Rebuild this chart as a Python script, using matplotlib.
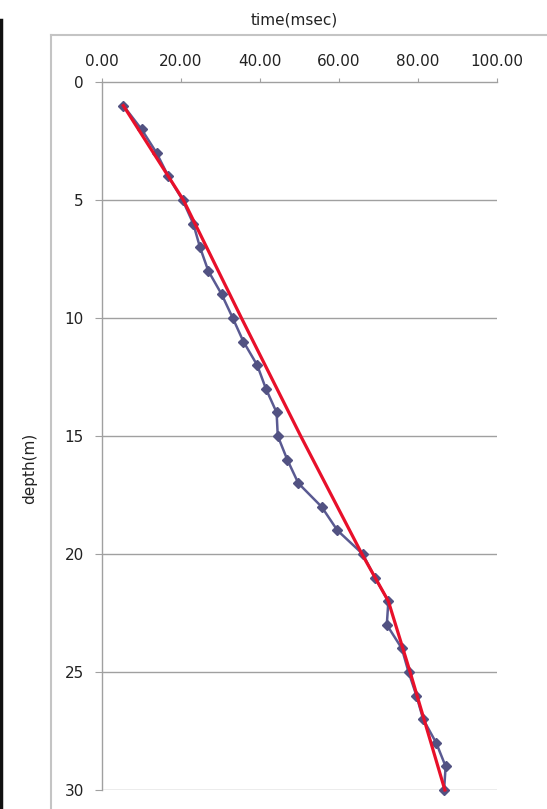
import matplotlib
matplotlib.use('Agg')
import matplotlib.pyplot as plt
from matplotlib.lines import Line2D

# ─── Data ─────────────────────────────────────────────────────────────────────

depth_m = list(range(1, 31))
time_ms = [5.4, 10.0, 13.8, 16.8, 20.4, 23.1, 24.8, 26.9, 30.3, 33.1,
           35.8, 39.3, 41.5, 44.2, 44.5, 46.9, 49.7, 55.6, 59.6, 66.0,
           69.1, 72.5, 72.1, 75.9, 77.6, 79.6, 81.3, 84.6, 87.0, 86.6]

# red trend line, read at a few depths
trend_depth = [1, 5, 10, 15, 20, 22, 25, 30]
trend_time = [5.4, 20.6, 35.3, 50.3, 65.8, 72.5, 78.0, 86.8]

x_ticks = [0, 20, 40, 60, 80, 100]
y_ticks = [0, 5, 10, 15, 20, 25, 30]

# ─── Figure ───────────────────────────────────────────────────────────────────

W, H = 547, 809
fig = plt.figure(figsize=(W / 100, H / 100), dpi=100)
ax = fig.add_axes([102 / W, 1 - 790 / H, 395 / W, 708 / H])

grid_col = '#a0a0a0'
for d in y_ticks[1:]:
    ax.axhline(d, color=grid_col, lw=1.0, zorder=1)

ax.plot(time_ms, depth_m, color='#5a5a92', lw=1.8, marker='D', ms=5.5,
        mfc='#525282', mec='#525282', zorder=3, clip_on=False)
ax.plot(trend_time, trend_depth, color='#e8102a', lw=2.3, zorder=4,
        clip_on=False)

ax.set_xlim(0, 100)
ax.set_ylim(30, 0)
ax.xaxis.tick_top()
ax.set_xticks(x_ticks)
ax.set_xticklabels([f"{v:.2f}" for v in x_ticks])
ax.set_yticks(y_ticks)
ax.tick_params(axis='x', length=3, color=grid_col, pad=6, labelsize=11,
               labelcolor='#222222')
ax.tick_params(axis='y', length=5, color=grid_col, pad=8, labelsize=11,
               labelcolor='#222222')

for side in ['right', 'bottom']:
    ax.spines[side].set_visible(False)
for side in ['left', 'top']:
    ax.spines[side].set_color(grid_col)
    ax.spines[side].set_linewidth(1.0)

# chart border and left frame edge
fig.add_artist(Line2D([51 / W, 51 / W], [0, 1 - 35 / H], color='#c4c4c4', lw=1.5))
fig.add_artist(Line2D([51 / W, 1], [1 - 35 / H, 1 - 35 / H], color='#c4c4c4', lw=1.5))
fig.add_artist(Line2D([1.2 / W, 1.2 / W], [0, 1 - 20 / H], color='#111111', lw=2.5))

fig.text(294 / W, 1 - 20 / H, "time(msec)", ha='center', va='center',
         fontsize=11, color='#222222')
fig.text(30 / W, 1 - 468 / H, "depth(m)", ha='center', va='center',
         rotation=90, fontsize=11, color='#222222')

fig.savefig('out.png', dpi=100)
